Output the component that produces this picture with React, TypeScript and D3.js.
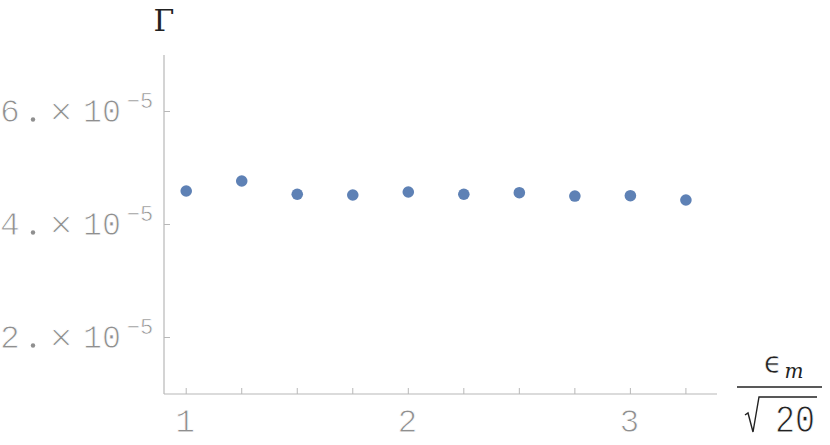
import React from "react";
import * as d3 from "d3";

const xValues = [1, 1.25, 1.5, 1.75, 2, 2.25, 2.5, 2.75, 3, 3.25];
const gammaValues = [4.593e-5, 4.770e-5, 4.535e-5, 4.522e-5, 4.575e-5, 4.535e-5, 4.563e-5, 4.504e-5, 4.510e-5, 4.434e-5];
const xTickMajor = [1, 2, 3];
const xTickAll = [1, 1.25, 1.5, 1.75, 2, 2.25, 2.5, 2.75, 3, 3.25];
const yTickMajor = [2e-5, 4e-5, 6e-5];
const yTickMantissa = ["2", "4", "6"];

export default function App() {
  const W = 830, H = 445;
  const left = 164, right = 717, top = 55, bottom = 394;
  const x = d3.scaleLinear().domain([0.9, 3.39]).range([left, right]);
  const y = d3.scaleLinear().domain([1e-5, 7e-5]).range([bottom, top]);
  const axisColor = "#b8b8b8";
  const labelColor = "#8f8f8f";
  const mono = "'Liberation Mono', 'DejaVu Sans Mono', monospace";
  const sans = "'DejaVu Sans', sans-serif";
  const thin = { stroke: "#fff", strokeWidth: 0.9 };
  return (
    <svg width={W} height={H} style={{ position: "absolute", left: 0, top: 0, background: "#fff" }}>
      <line x1={left} x2={left} y1={top} y2={bottom} stroke={axisColor} strokeWidth={1.2} />
      <line x1={left} x2={right} y1={bottom} y2={bottom} stroke={axisColor} strokeWidth={1.2} />
      {xTickAll.map((t, i) => (
        <line key={"xt" + i} x1={x(t)} x2={x(t)} y1={bottom} y2={bottom - 6} stroke={axisColor} strokeWidth={1} />
      ))}
      {xTickMajor.map((t, i) => (
        <text key={"xl" + i} x={x(t) - 1} y={432} textAnchor="middle" fontFamily={mono} fontSize={33} fill={labelColor} {...thin}>
          {t}
        </text>
      ))}
      {yTickMajor.map((t, i) => {
        const by = y(t) + 10;
        return (
          <g key={"yt" + i}>
            <line x1={left} x2={left + 6} y1={y(t)} y2={y(t)} stroke={axisColor} strokeWidth={1} />
            <text x={10} y={by} textAnchor="middle" fontFamily={mono} fontSize={33} fill={labelColor} {...thin}>{yTickMantissa[i]}</text>
            <circle cx={33} cy={by - 2} r={2.2} fill={labelColor} />
            <text x={61} y={by - 1} textAnchor="middle" fontFamily={sans} fontSize={30} fill={labelColor} {...thin}>×</text>
            <text x={102} y={by} textAnchor="middle" fontFamily={mono} fontSize={33} textLength={38} lengthAdjust="spacingAndGlyphs" fill={labelColor} {...thin}>10</text>
            <text x={140} y={by - 14} textAnchor="middle" fontFamily={mono} fontSize={22} fill={labelColor} stroke="#fff" strokeWidth={0.6}>−5</text>
          </g>
        );
      })}
      {xValues.map((v, i) => (
        <circle key={"p" + i} cx={x(v)} cy={y(gammaValues[i])} r={5.8} fill="#5E81B5" />
      ))}
      <text x={164} y={31} textAnchor="middle" fontFamily="'DejaVu Serif', serif" fontSize={30} fill="#222">Γ</text>
      <text x={773} y={373} textAnchor="middle" fontFamily={sans} fontSize={30} fill="#222" stroke="#fff" strokeWidth={0.6}>ϵ</text>
      <text x={794} y={378} textAnchor="middle" fontFamily="'DejaVu Serif', serif" fontStyle="italic" fontSize={20} fill="#222">m</text>
      <line x1={737} x2={822} y1={387} y2={387} stroke="#222" strokeWidth={1.6} />
      <path d="M745,415 L748,413 L753,432 L759,397 L817,397" fill="none" stroke="#222" strokeWidth={1.4} />
      <text x={795} y={432} textAnchor="middle" fontFamily={mono} fontSize={38} textLength={40} lengthAdjust="spacingAndGlyphs" fill="#222" {...thin}>20</text>
    </svg>
  );
}
